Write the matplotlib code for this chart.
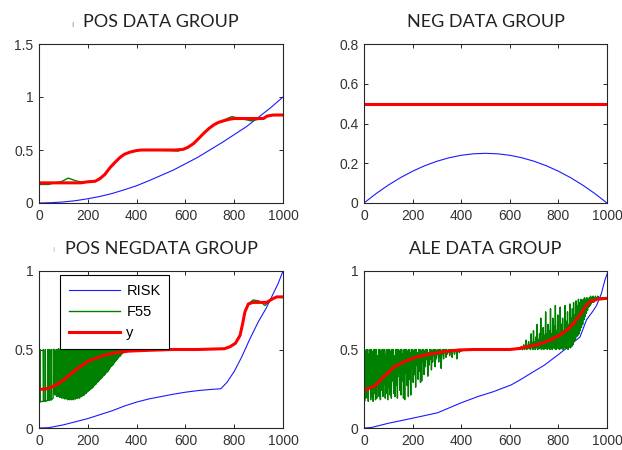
import numpy as np
import matplotlib
matplotlib.use("Agg")
import matplotlib.pyplot as plt

# ---------------- data ----------------
titles = ["POS DATA GROUP", "NEG DATA GROUP", "POS NEGDATA GROUP", "ALE DATA GROUP"]
series_names = ["RISK", "F55", "y"]

# POS DATA GROUP
pos_risk_x = [0, 50, 100, 150, 200, 250, 300, 350, 400, 450, 500, 550, 600, 650, 700, 750, 800, 850, 900, 950, 1000]
pos_risk = [0, 0.003, 0.01, 0.022, 0.04, 0.062, 0.09, 0.125, 0.163, 0.21, 0.26, 0.31, 0.37, 0.43, 0.5, 0.57, 0.645, 0.72, 0.81, 0.9, 1.0]
pos_y_x = [0, 100, 170, 200, 230, 250, 270, 290, 310, 332, 350, 373, 400, 420, 560, 592, 610, 633, 655, 674, 695, 715, 735, 756, 780, 800, 920, 935, 960, 1000]
pos_y = [0.19, 0.19, 0.19, 0.2, 0.205, 0.23, 0.27, 0.33, 0.38, 0.43, 0.46, 0.48, 0.495, 0.5, 0.5, 0.507, 0.525, 0.56, 0.61, 0.655, 0.7, 0.735, 0.76, 0.775, 0.79, 0.797, 0.797, 0.82, 0.83, 0.83]
pos_f55_x = [0, 40, 60, 90, 120, 150, 180, 230, 250, 270, 290, 310, 332, 350, 373, 400, 420, 540, 570, 592, 610, 633, 655, 674, 695, 715, 735, 760, 790, 820, 850, 870, 890, 920, 935, 960, 1000]
pos_f55 = [0.175, 0.175, 0.19, 0.2, 0.235, 0.21, 0.195, 0.205, 0.23, 0.27, 0.33, 0.38, 0.43, 0.46, 0.48, 0.495, 0.5, 0.495, 0.49, 0.507, 0.525, 0.56, 0.61, 0.655, 0.7, 0.735, 0.76, 0.785, 0.815, 0.8, 0.785, 0.775, 0.785, 0.797, 0.82, 0.83, 0.83]

# NEG DATA GROUP
neg_risk_x = [0, 50, 100, 150, 200, 250, 300, 350, 400, 450, 500, 550, 600, 650, 700, 750, 800, 850, 900, 950, 1000]
neg_risk = [0, 0.0475, 0.09, 0.1275, 0.16, 0.1875, 0.21, 0.2275, 0.24, 0.2475, 0.25, 0.2475, 0.24, 0.2275, 0.21, 0.1875, 0.16, 0.1275, 0.09, 0.0475, 0]
neg_y_x = [0, 1000]
neg_y = [0.5, 0.5]
neg_f55 = [0.5, 0.5]

# POS NEGDATA GROUP
pn_risk_x = [0, 40, 100, 150, 200, 250, 300, 350, 400, 450, 500, 550, 600, 650, 700, 745, 770, 800, 830, 865, 900, 930, 955, 980, 1000]
pn_risk = [0, 0.002, 0.02, 0.04, 0.06, 0.085, 0.11, 0.14, 0.165, 0.185, 0.2, 0.215, 0.228, 0.238, 0.245, 0.25, 0.29, 0.36, 0.45, 0.57, 0.68, 0.76, 0.84, 0.92, 1.0]
pn_y_x = [0, 30, 60, 100, 150, 200, 260, 315, 370, 450, 550, 650, 760, 783, 805, 824, 834, 844, 858, 877, 933, 954, 974, 1000]
pn_y = [0.245, 0.25, 0.265, 0.305, 0.37, 0.425, 0.46, 0.48, 0.49, 0.495, 0.5, 0.5, 0.505, 0.518, 0.54, 0.59, 0.66, 0.74, 0.79, 0.8, 0.8, 0.82, 0.835, 0.835]
# F55: sparse start, dense oscillation (lows / highs), smooth tail
pn_f55_start_x = [0, 4, 4, 5, 18, 18, 19, 26, 26, 27, 36, 36, 37, 42, 42, 43, 50, 50, 51, 58, 58]
pn_f55_start = [0.165, 0.165, 0.5, 0.168, 0.17, 0.5, 0.17, 0.172, 0.5, 0.172, 0.175, 0.5, 0.175, 0.178, 0.5, 0.178, 0.18, 0.5, 0.18, 0.19, 0.5]
pn_f55_dense_lo = [0.22, 0.21, 0.215, 0.2, 0.205, 0.2, 0.195, 0.2, 0.19, 0.195,
                   0.19, 0.185, 0.19, 0.185, 0.18, 0.185, 0.18, 0.185, 0.18, 0.185,
                   0.18, 0.19, 0.185, 0.19, 0.19, 0.195, 0.19, 0.2, 0.2, 0.205,
                   0.21, 0.21, 0.22, 0.22, 0.23, 0.235, 0.24, 0.245, 0.25, 0.255,
                   0.26, 0.27, 0.275, 0.28, 0.29, 0.295, 0.3, 0.31, 0.315, 0.32,
                   0.33, 0.335, 0.34, 0.35, 0.355, 0.36, 0.37, 0.38, 0.39, 0.395,
                   0.4, 0.41, 0.42, 0.425, 0.435, 0.44, 0.45, 0.455, 0.46, 0.47,
                   0.475, 0.48, 0.485, 0.49, 0.495, 0.5]
pn_f55_dense_hi = [0.5, 0.5, 0.49, 0.5, 0.5, 0.505, 0.5, 0.5, 0.49, 0.5,
                   0.5, 0.505, 0.5, 0.49, 0.5, 0.5, 0.505, 0.5, 0.5, 0.495,
                   0.5, 0.505, 0.5, 0.49, 0.5, 0.5, 0.505, 0.5, 0.5, 0.49,
                   0.5, 0.505, 0.5, 0.5, 0.49, 0.5, 0.505, 0.5, 0.5, 0.495,
                   0.5, 0.505, 0.5, 0.49, 0.5, 0.5, 0.505, 0.5, 0.5, 0.495,
                   0.5, 0.505, 0.5, 0.49, 0.5, 0.5, 0.505, 0.5, 0.5, 0.495,
                   0.5, 0.505, 0.5, 0.5, 0.495, 0.5, 0.505, 0.5, 0.5, 0.495,
                   0.5, 0.5, 0.5, 0.5, 0.5, 0.5]
pn_f55_tail_x = [364, 380, 400, 450, 550, 650, 760, 783, 805, 824, 834, 844, 858, 877, 900, 915, 926, 940, 954, 974, 1000]
pn_f55_tail = [0.49, 0.49, 0.495, 0.5, 0.5, 0.5, 0.505, 0.515, 0.535, 0.585, 0.66, 0.74, 0.79, 0.815, 0.81, 0.795, 0.78, 0.8, 0.82, 0.835, 0.835]

# ALE DATA GROUP
ale_risk_x = [0, 30, 100, 193, 303, 399, 468, 530, 605, 642, 683, 742, 807, 850, 889, 916, 940, 957, 977, 991, 1000]
ale_risk = [0, 0.003, 0.03, 0.06, 0.097, 0.16, 0.2, 0.23, 0.274, 0.306, 0.345, 0.4, 0.476, 0.53, 0.58, 0.69, 0.74, 0.78, 0.857, 0.94, 0.98]
ale_y_x = [0, 44, 84, 125, 165, 207, 262, 330, 392, 450, 600, 642, 683, 724, 765, 807, 848, 889, 910, 930, 957, 1000]
ale_y = [0.24, 0.268, 0.331, 0.39, 0.422, 0.448, 0.469, 0.486, 0.497, 0.5, 0.5, 0.507, 0.522, 0.535, 0.56, 0.592, 0.641, 0.72, 0.773, 0.805, 0.82, 0.826]
ale_f55_lo1 = [0.17, 0.19, 0.2, 0.17, 0.25, 0.18, 0.2, 0.17, 0.22, 0.18,
               0.19, 0.26, 0.2, 0.18, 0.24, 0.2, 0.28, 0.19, 0.22, 0.18,
               0.26, 0.21, 0.19, 0.3, 0.22, 0.2, 0.27, 0.19, 0.33, 0.24,
               0.21, 0.3, 0.19, 0.18, 0.35, 0.27, 0.2, 0.31, 0.21, 0.38,
               0.29, 0.34, 0.26, 0.4, 0.31, 0.36, 0.29, 0.3, 0.42, 0.34,
               0.39, 0.44, 0.33, 0.4, 0.44, 0.37, 0.42, 0.46, 0.39, 0.44,
               0.47, 0.42, 0.45, 0.38, 0.47, 0.44, 0.48, 0.45, 0.47, 0.49,
               0.46, 0.48, 0.45, 0.49, 0.47, 0.49, 0.44, 0.49, 0.48, 0.49,
               0.49]
ale_f55_hi1 = [0.5, 0.49, 0.5, 0.5, 0.47, 0.5, 0.5, 0.49, 0.5, 0.5,
               0.5, 0.46, 0.5, 0.5, 0.49, 0.5, 0.5, 0.5, 0.47, 0.5,
               0.5, 0.5, 0.49, 0.5, 0.5, 0.46, 0.5, 0.5, 0.5, 0.49,
               0.5, 0.5, 0.47, 0.5, 0.5, 0.5, 0.49, 0.5, 0.48, 0.5,
               0.5, 0.49, 0.5, 0.5, 0.48, 0.5, 0.5, 0.49, 0.5, 0.5,
               0.49, 0.5, 0.5, 0.48, 0.5, 0.5, 0.49, 0.5, 0.5, 0.5,
               0.49, 0.5, 0.5, 0.5, 0.49, 0.5, 0.5, 0.5, 0.5, 0.49,
               0.5, 0.5, 0.5, 0.5, 0.5, 0.5, 0.5, 0.5, 0.5, 0.5,
               0.5]
ale_f55_mid_x = [405, 450, 500, 550, 600, 635]
ale_f55_mid = [0.495, 0.5, 0.5, 0.5, 0.5, 0.505]
ale_f55_hi2 = [0.51, 0.52, 0.5, 0.53, 0.51, 0.56, 0.52, 0.55, 0.53, 0.6,
               0.54, 0.62, 0.55, 0.58, 0.66, 0.56, 0.6, 0.7, 0.57, 0.64,
               0.59, 0.74, 0.6, 0.66, 0.62, 0.76, 0.6, 0.7, 0.65, 0.78,
               0.62, 0.72, 0.6, 0.77, 0.66, 0.7, 0.62, 0.78, 0.68, 0.74,
               0.66, 0.79, 0.7, 0.76, 0.8, 0.72, 0.81, 0.78, 0.82, 0.8,
               0.82, 0.81, 0.82, 0.83, 0.82, 0.83, 0.82, 0.83, 0.84, 0.83,
               0.84, 0.83, 0.84, 0.83, 0.84]
ale_f55_lo2 = [0.5, 0.505, 0.5, 0.51, 0.5, 0.505, 0.5, 0.51, 0.505, 0.5,
               0.51, 0.5, 0.505, 0.5, 0.51, 0.5, 0.505, 0.51, 0.5, 0.505,
               0.5, 0.51, 0.505, 0.5, 0.51, 0.5, 0.505, 0.5, 0.51, 0.505,
               0.5, 0.51, 0.505, 0.5, 0.51, 0.505, 0.5, 0.51, 0.505, 0.51,
               0.5, 0.515, 0.51,
               0.52, 0.53, 0.55, 0.56, 0.58, 0.59, 0.6, 0.62, 0.64, 0.66,
               0.69, 0.71, 0.73, 0.75, 0.77, 0.78, 0.79, 0.8, 0.8, 0.81,
               0.81, 0.82]
ale_f55_tail_x = [965, 980, 1000]
ale_f55_tail = [0.83, 0.83, 0.83]

xticks = [0, 200, 400, 600, 800, 1000]
yticks_list = [[0, 0.5, 1, 1.5], [0, 0.2, 0.4, 0.6, 0.8], [0, 0.5, 1], [0, 0.5, 1]]
ylims = [(0, 1.5), (0, 0.8), (0, 1), (0, 1)]


def zigzag(xs, hi, lo, dx):
    px, py = [], []
    for x, h, l in zip(xs, hi, lo):
        px += [x, x + dx]
        py += [h, l]
    return px, py


# assemble F55 series
pn_dx = list(60 + 4 * np.arange(len(pn_f55_dense_lo)))
zx, zy = zigzag(pn_dx, pn_f55_dense_hi, pn_f55_dense_lo, 2)
pn_f55_x_all = pn_f55_start_x + zx + pn_f55_tail_x
pn_f55_all = pn_f55_start + zy + pn_f55_tail

a1 = list(5 * np.arange(len(ale_f55_lo1)))
z1x, z1y = zigzag(a1, ale_f55_hi1, ale_f55_lo1, 2.5)
a2 = list(640 + 5 * np.arange(len(ale_f55_hi2)))
z2x, z2y = zigzag(a2, ale_f55_lo2, ale_f55_hi2, 2.5)
ale_f55_x_all = z1x + ale_f55_mid_x + z2x + ale_f55_tail_x
ale_f55_all = z1y + ale_f55_mid + z2y + ale_f55_tail

panels = [
    (pos_risk_x, pos_risk, pos_f55_x, pos_f55, pos_y_x, pos_y),
    (neg_risk_x, neg_risk, neg_y_x, neg_f55, neg_y_x, neg_y),
    (pn_risk_x, pn_risk, pn_f55_x_all, pn_f55_all, pn_y_x, pn_y),
    (ale_risk_x, ale_risk, ale_f55_x_all, ale_f55_all, ale_y_x, ale_y),
]

# ---------------- figure ----------------
W, H = 622, 450
fig = plt.figure(figsize=(W / 100, H / 100), dpi=100)
boxes = [(39, 44, 283, 203), (364, 44, 607, 203), (39, 271, 283, 428), (364, 271, 607, 428)]

tick_font = "Liberation Sans"
title_font = "Lato"
dark = "#262626"
green = "#008000"

for i, (box, data) in enumerate(zip(boxes, panels)):
    l, t, r, b = box
    ax = fig.add_axes([l / W, 1 - b / H, (r - l) / W, (b - t) / H])
    rx, ry, fx, fy, yx, yy = data
    ax.plot(rx, ry, color="#1a1aff", lw=0.8, label=series_names[0])
    ax.plot(fx, fy, color=green, lw=1.0, label=series_names[1])
    if i == 2:
        # dense part of the F55 series reads as a solid band in the reference
        ax.fill_between(pn_dx, pn_f55_dense_lo, pn_f55_dense_hi, color=green, lw=0)
    ax.plot(yx, yy, color="#ff0000", lw=2.2, label=series_names[2])
    ax.set_xlim(0, 1000)
    ax.set_ylim(*ylims[i])
    ax.set_xticks(xticks)
    ax.set_yticks(yticks_list[i])
    ax.set_xticklabels([str(v) for v in xticks])
    ax.set_yticklabels([("%g" % v) for v in yticks_list[i]])
    ax.tick_params(direction="in", length=3, width=0.7, colors=dark,
                   top=True, right=True, labelsize=10, pad=4)
    for lab in ax.get_xticklabels() + ax.get_yticklabels():
        lab.set_fontfamily(tick_font)
        lab.set_color("#333333")
    for sp in ax.spines.values():
        sp.set_color(dark)
        sp.set_linewidth(0.8)
    ax.set_title(titles[i], fontfamily=title_font, fontsize=13, color="#222222", pad=12)
    if i == 2:
        leg = ax.legend(loc="upper left", bbox_to_anchor=(0.086, 0.975), fancybox=False,
                        edgecolor="black", framealpha=1, handlelength=3.5, handletextpad=0.45,
                        labelspacing=0.5, borderpad=0.6, borderaxespad=0,
                        prop={"family": tick_font, "size": 10.5})
        leg.get_frame().set_linewidth(0.8)

# small stray marks seen in the reference
fig.text(72 / W, 1 - 27 / H, "ı", fontsize=6, color="#888888", ha="center", va="baseline")
fig.text(53 / W, 1 - 252 / H, "ı", fontsize=6, color="#bbbbbb", ha="center", va="baseline")

fig.savefig("out.png", dpi=100)
